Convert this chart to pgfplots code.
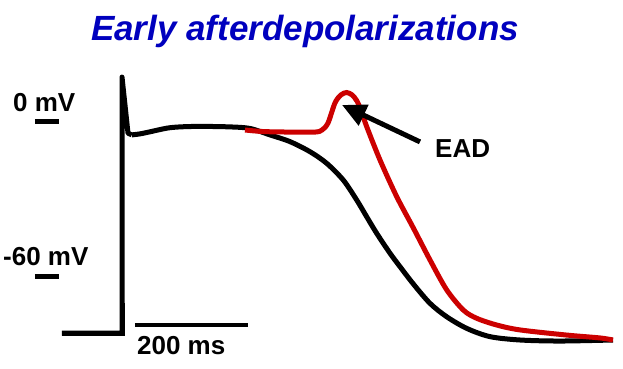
\documentclass[border=0pt]{standalone}
\usepackage{fontspec}
\setmainfont{Liberation Sans}
\usepackage{pgfplots}
\pgfplotsset{compat=1.18}
\usetikzlibrary{arrows.meta}
\definecolor{apred}{RGB}{204,0,0}
\definecolor{titleblue}{RGB}{0,0,190}
\begin{document}
\begin{tikzpicture}
\begin{axis}[hide axis, scale only axis, width=623bp, height=369bp,
  xmin=-215.93, xmax=886.73, ymin=-95.62, ymax=47.23, clip=false]
\path (rel axis cs:0,0) rectangle (rel axis cs:1,1);
% black: resting + upstroke + spike (sharp)
\addplot[black, line width=5bp, line join=round] coordinates {
(-106.2,-81.7) (0,-81.7) (0,17.4) (10.6,-4.3) (17.2,-5.0)};
\draw[black, line width=5bp] (axis cs:-106.2,-81.7) -- (axis cs:0,-81.7) -- (axis cs:0,-70);
% black plateau + repolarization
\addplot[black, line width=5bp, smooth, tension=0.5] coordinates {
(17.2,-5.0) (31.9,-4.6) (49.6,-3.8) (79.1,-2.4) (102.7,-1.9) (138,-1.7)
(191,-1.9) (226.5,-2.5) (261.9,-5.0) (297.3,-7.6) (332.7,-11.5) (362.3,-16.0)
(391.7,-22.5) (415.4,-30.2) (433.1,-36.7) (450.8,-43.1) (474.3,-50.8)
(492.0,-56.0) (515.6,-62.7) (545.1,-70.2) (574.7,-75.4) (610.1,-79.9)
(651.3,-83.1) (704.4,-84.4) (775.2,-84.8) (869,-84.4)};
% red: EAD trace
\addplot[apred, line width=5bp, smooth, tension=0.5] coordinates {
(217.7,-3.1) (249.6,-3.7) (297.3,-3.9) (341.6,-3.9) (354,-3.1) (364.6,-0.4)
(377,7.4) (387.6,10.5) (397.7,11.4) (407.1,10.5) (415.9,8.1) (424.8,3.5)
(433.1,-1.8) (456.6,-14.7) (486.2,-28.9) (515.6,-41.0) (545.1,-53.4)
(574.7,-65.0) (604.1,-72.8) (627.8,-76.0) (663.2,-78.6) (704.4,-80.5)
(787.6,-82.5) (846,-83.6) (869,-84.4)};
% voltage markers
\draw[black, line width=5bp] (axis cs:-154,0) -- (axis cs:-111.5,0);
\draw[black, line width=5bp] (axis cs:-154,-60) -- (axis cs:-111.5,-60);
\node[anchor=base west, inner sep=0pt, font=\fontsize{26bp}{30bp}\selectfont\bfseries] at (axis cs:-192.9,3.87) {0 mV};
\node[anchor=base west, inner sep=0pt, font=\fontsize{26bp}{30bp}\selectfont\bfseries] at (axis cs:-210.6,-55.4) {-60 mV};
% time scale bar
\draw[black, line width=3.3bp] (axis cs:23,-78.6) -- (axis cs:223,-78.6);
\node[anchor=base west, inner sep=0pt, font=\fontsize{26bp}{30bp}\selectfont\bfseries] at (axis cs:26.5,-90.2) {200 ms};
% EAD arrow
\draw[black, line width=5bp, -{Triangle[length=24bp,width=22bp]}] (axis cs:527.4,-7.7) -- (axis cs:389.4,6.6);
\node[anchor=base west, inner sep=0pt, font=\fontsize{26bp}{30bp}\selectfont\bfseries] at (axis cs:554,-13.9) {EAD};
% title
\node[anchor=base, inner sep=0pt, text=titleblue, font=\fontsize{35bp}{40bp}\selectfont\bfseries\itshape] at (axis cs:323.9,31.7) {Early afterdepolarizations};
\end{axis}
\end{tikzpicture}
\end{document}
